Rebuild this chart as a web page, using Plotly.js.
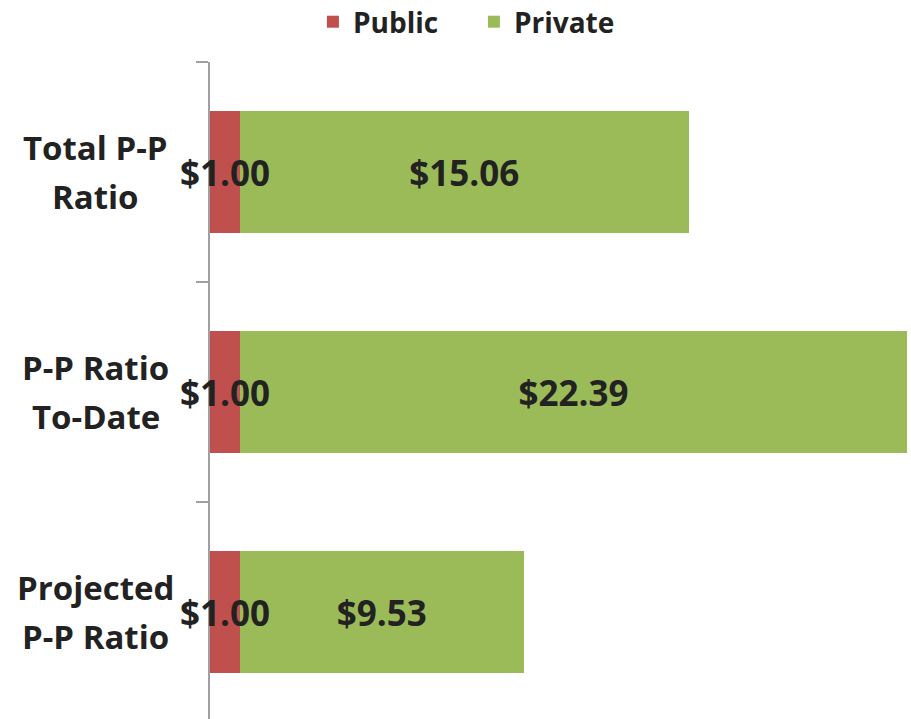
<!DOCTYPE html>
<html>
<head>
<meta charset="utf-8">
<script src="https://cdn.plot.ly/plotly-3.0.1.min.js"></script>
<style>html,body{margin:0;padding:0;background:#fff;}#chart{width:911px;height:719px;}</style>
</head>
<body>
<div id="chart"></div>
<script>
var categories = ["Total P-P Ratio", "P-P Ratio To-Date", "Projected P-P Ratio"];
var categoryLines = [["Total P-P", "Ratio"], ["P-P Ratio", "To-Date"], ["Projected", "P-P Ratio"]];
var publicValues = [1.00, 1.00, 1.00];
var privateValues = [15.06, 22.39, 9.53];
var publicLabels = ["$1.00", "$1.00", "$1.00"];
var privateLabels = ["$15.06", "$22.39", "$9.53"];

var FONT = "'Open Sans', Lato, sans-serif";
var dataFont = {family: FONT, size: 35, color: "#222222", weight: "bold"};
var catFont = {family: FONT, size: 33, color: "#222222", weight: "bold"};

var traces = [
  {type: "bar", orientation: "h", name: "Public", y: categories, x: publicValues,
   marker: {color: "#C0504D"}, hoverinfo: "none"},
  {type: "bar", orientation: "h", name: "Private", y: categories, x: privateValues,
   text: privateLabels, textposition: "inside", insidetextanchor: "middle", textangle: 0,
   constraintext: "none", insidetextfont: dataFont, textfont: dataFont,
   marker: {color: "#9BBB59"}, hoverinfo: "none"}
];

var annotations = [];
categories.forEach(function (c, i) {
  categoryLines[i].forEach(function (line, j) {
    annotations.push({xref: "paper", yref: "y", x: -0.163, y: c, xanchor: "center", yanchor: "middle",
                      yshift: j === 0 ? 25 : -24, text: line, showarrow: false, font: catFont});
  });
  annotations.push({xref: "x", yref: "y", x: publicValues[i] / 2, y: c,
                    xanchor: "center", yanchor: "middle", text: publicLabels[i],
                    showarrow: false, font: dataFont});
});

var layout = {
  width: 911, height: 719,
  margin: {l: 210, r: 0, t: 62, b: 0, pad: 0, autoexpand: false},
  paper_bgcolor: "#ffffff", plot_bgcolor: "#ffffff",
  barmode: "stack", bargap: 0.445,
  showlegend: true,
  legend: {orientation: "h", xref: "container", yref: "container",
           x: 0.3435, xanchor: "left", y: 1 - 22 / 719, yanchor: "middle",
           entrywidth: 116, entrywidthmode: "pixels",
           font: {family: FONT, size: 28, color: "#222222", weight: "bold"}, traceorder: "normal"},
  xaxis: {range: [0, 23.52], visible: false, showgrid: false, zeroline: false, fixedrange: true},
  yaxis: {type: "category", categoryorder: "array", categoryarray: categories,
          range: [2.486, -0.5], showticklabels: false, showgrid: false, zeroline: false,
          showline: true, linecolor: "#A0A0A4", linewidth: 2,
          ticks: "outside", tickson: "boundaries", ticklen: 12, tickwidth: 2, tickcolor: "#A0A0A4"},
  annotations: annotations
};

Plotly.newPlot("chart", traces, layout, {displayModeBar: false, staticPlot: true});
</script>
</body>
</html>
